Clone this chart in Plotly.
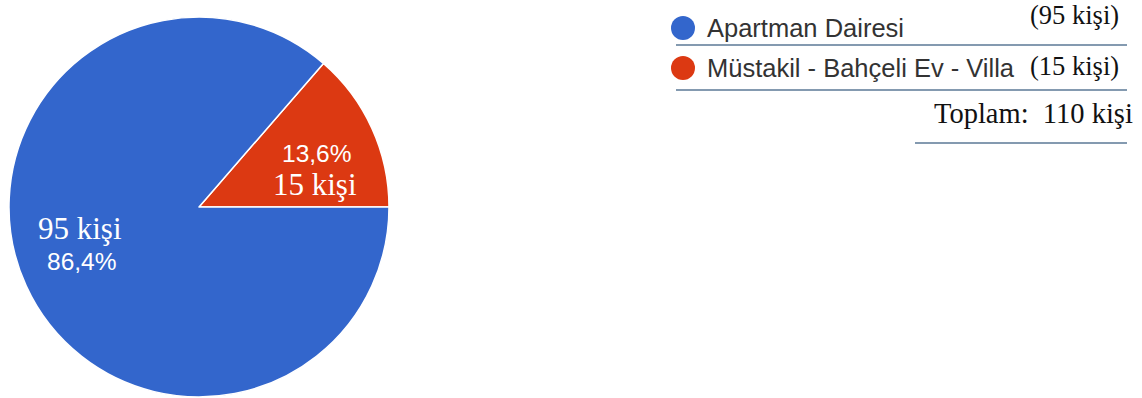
import plotly.graph_objects as go

# Survey answers: housing type
categories = ["Müstakil - Bahçeli Ev - Villa", "Apartman Dairesi"]
counts = [15, 95]
colors = ["#DC3912", "#3366CC"]

legend_order = ["Apartman Dairesi", "Müstakil - Bahçeli Ev - Villa"]

W, H = 1142, 398
total = sum(counts)
pct = {c: v / total * 100 for c, v in zip(categories, counts)}
cnt = dict(zip(categories, counts))
col = dict(zip(categories, colors))

SANS = "Liberation Sans, Arial, sans-serif"
SERIF = "Liberation Serif, Times New Roman, serif"


def px(x):
    return x / W


def py(y):
    return 1 - y / H


def fmt_pct(v):
    return f"{v:.1f}".replace(".", ",") + "%"


# first slice sits just above the 3 o'clock radius
first_share = counts[0] / total
fig = go.Figure(
    go.Pie(
        labels=categories,
        values=counts,
        sort=False,
        direction="counterclockwise",
        rotation=90 - 360 * first_share,
        marker=dict(colors=colors, line=dict(color="white", width=1.5)),
        textinfo="none",
        hoverinfo="label+value+percent",
        domain=dict(x=[px(8), px(390)], y=[py(397), py(17)]),
        showlegend=False,
    )
)

ann = []
shapes = []

# slice labels
red, blue = categories[0], categories[1]
ann.append(dict(x=px(316), y=py(153), text=fmt_pct(pct[red]),
                font=dict(family=SANS, size=24.5, color="white")))
ann.append(dict(x=px(315), y=py(185), text=f"{cnt[red]} kişi",
                font=dict(family=SERIF, size=31, color="white")))
ann.append(dict(x=px(80), y=py(228), text=f"{cnt[blue]} kişi",
                font=dict(family=SERIF, size=31, color="white")))
ann.append(dict(x=px(82), y=py(261), text=fmt_pct(pct[blue]),
                font=dict(family=SANS, size=24.5, color="white")))

# legend block
row_y = [28, 68]
count_y = [15, 66]
line_y = [45, 90]
for name, ry, cy, ly in zip(legend_order, row_y, count_y, line_y):
    shapes.append(dict(type="circle", xref="paper", yref="paper",
                       x0=px(671), x1=px(695), y0=py(ry + 12), y1=py(ry - 12),
                       fillcolor=col[name], line=dict(width=0)))
    ann.append(dict(x=px(705), y=py(ry), text=name, xanchor="left",
                    font=dict(family=SANS, size=25.5, color="#333333")))
    ann.append(dict(x=px(1121), y=py(cy), text=f"({cnt[name]} kişi)",
                    xanchor="right",
                    font=dict(family=SERIF, size=26.5, color="#111111")))
    shapes.append(dict(type="line", xref="paper", yref="paper",
                       x0=px(676), x1=px(1127), y0=py(ly), y1=py(ly),
                       line=dict(color="#5b7896", width=1.5)))

ann.append(dict(x=px(1135), y=py(113), text=f"Toplam:  {total} kişi",
                xanchor="right",
                font=dict(family=SERIF, size=28.5, color="#111111")))
shapes.append(dict(type="line", xref="paper", yref="paper",
                   x0=px(915), x1=px(1127), y0=py(143), y1=py(143),
                   line=dict(color="#5b7896", width=1.5)))

for a in ann:
    a.update(xref="paper", yref="paper", showarrow=False)
    a.setdefault("xanchor", "center")
    a.setdefault("yanchor", "middle")

fig.update_layout(
    width=W, height=H,
    margin=dict(l=0, r=0, t=0, b=0),
    paper_bgcolor="white",
    plot_bgcolor="white",
    annotations=ann,
    shapes=shapes,
)

fig.write_html("out.html")
